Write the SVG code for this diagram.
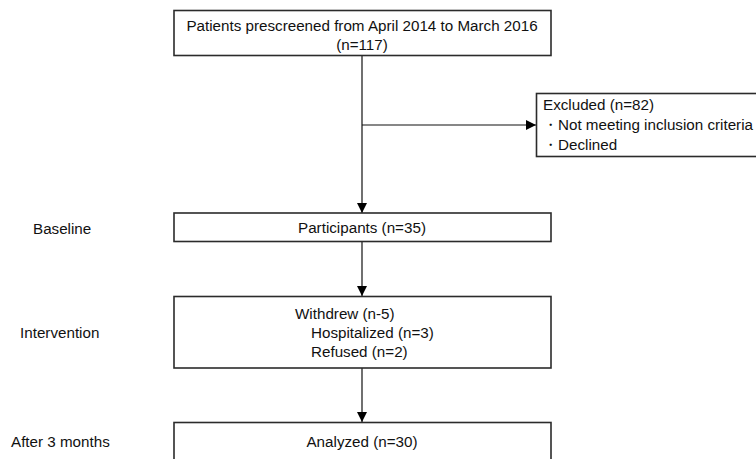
<svg xmlns="http://www.w3.org/2000/svg" width="756" height="459" viewBox="0 0 756 459">
<style>
.box{fill:#fff;stroke:#2b2b2b;stroke-width:1.6}
.t{font-family:"Liberation Sans",Arial,sans-serif;font-size:15.2px;fill:#111}
.c{text-anchor:middle}
.ln{stroke:#111;stroke-width:1.2;fill:none}
</style>
<defs>
<marker id="ah" markerWidth="10" markerHeight="10" refX="10" refY="5" orient="auto" markerUnits="userSpaceOnUse">
<path d="M0,0 L10,5 L0,10 Z" fill="#000"/>
</marker>
</defs>
<rect width="756" height="459" fill="#fff"/>
<g id="connectors">
<line class="ln" x1="362" y1="56" x2="362" y2="213" marker-end="url(#ah)"/>
<line class="ln" x1="362" y1="125" x2="536" y2="125" marker-end="url(#ah)"/>
<line class="ln" x1="362" y1="242" x2="362" y2="296" marker-end="url(#ah)"/>
<line class="ln" x1="362" y1="368" x2="362" y2="422" marker-end="url(#ah)"/>
</g>
<g id="prescreened">
<rect class="box" x="174" y="10.5" width="377" height="45"/>
<text class="t c" x="362" y="31">Patients prescreened from April 2014 to March 2016</text>
<text class="t c" x="362" y="50">(n=117)</text>
</g>
<g id="excluded">
<rect class="box" x="536.5" y="93.5" width="225" height="63"/>
<text class="t" x="543" y="110">Excluded (n=82)</text>
<text class="t" x="543" y="130">・Not meeting inclusion criteria</text>
<text class="t" x="543" y="150">・Declined</text>
</g>
<g id="participants">
<rect class="box" x="174" y="213" width="377" height="28.5"/>
<text class="t c" x="362" y="233">Participants (n=35)</text>
</g>
<g id="withdrew">
<rect class="box" x="174" y="296.5" width="377" height="71.5"/>
<text class="t" x="295" y="319">Withdrew (n-5)</text>
<text class="t" x="311" y="338">Hospitalized (n=3)</text>
<text class="t" x="311" y="357">Refused (n=2)</text>
</g>
<g id="analyzed">
<rect class="box" x="174" y="422.5" width="377" height="45"/>
<text class="t c" x="362" y="447">Analyzed (n=30)</text>
</g>
<g id="labels">
<text class="t" x="33" y="234">Baseline</text>
<text class="t" x="20" y="338">Intervention</text>
<text class="t" x="11" y="447">After 3 months</text>
</g>
</svg>
